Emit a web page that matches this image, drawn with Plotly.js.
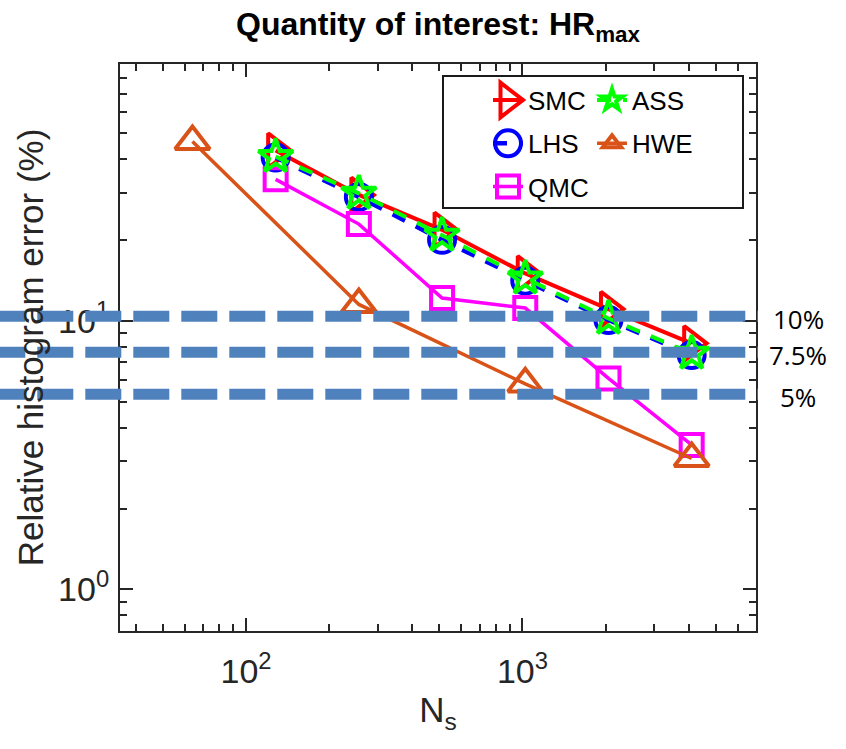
<!DOCTYPE html>
<html><head><meta charset="utf-8">
<script src="https://cdn.plot.ly/plotly-3.0.1.min.js"></script>
<style>body{margin:0;background:#fff}</style>
</head><body>
<div id="chart" style="width:846px;height:749px"></div>
<script>
// ---- data ----
const Ns      = [128, 256, 512, 1024, 2048, 4096];
const Ns_HWE  = [64, 256, 1024, 4096];
const err_SMC = [43.0, 29.4, 21.8, 15.0, 11.05, 8.24];
const err_LHS = [40.5, 28.9, 20.0, 14.1, 10.06, 7.45];
const err_QMC = [33.6, 22.9, 12.15, 11.15, 6.1, 3.45];
const err_ASS = [40.8, 29.8, 20.8, 14.4, 10.2, 7.56];
const err_HWE = [46.5, 11.5, 5.82, 3.07];
const thresholdLevels = [10.4, 7.63, 5.33];
const thresholdLabels = ['10%', '7.5%', '5%'];
const xTickVals = [100, 1000];
const xTickText = ['10<sup>2</sup>', '10<sup>3</sup>'];
const yTickVals = [1, 10];
const yTickText = ['10<sup>0</sup>', '10<sup>1</sup>'];

// ---- layout geometry ----
const W = 846, H = 749;
const M = {l: 120, r: 90, t: 64, b: 118};
const pw = W - M.l - M.r, ph = H - M.t - M.b;
const px2x = p => (p - M.l) / pw;
const py2y = p => (H - M.b - p) / ph;
const xr = [Math.log10(35), Math.log10(7000)];
const yr = [Math.log10(0.7), Math.log10(90.3)];

function minorVals(lo, hi) {
  const out = [];
  for (let e = Math.floor(Math.log10(lo)); e <= Math.ceil(Math.log10(hi)); e++) {
    for (let d = 2; d <= 9; d++) { const v = d * Math.pow(10, e); if (v >= lo && v <= hi) out.push(v); }
  }
  return out;
}

const FONT = 'Liberation Sans, Arial, Helvetica, sans-serif';
const axColor = '#262626';

function tr(name, x, y, color, width, dash, symbol, size, legend, grp) {
  return {
    type: 'scatter', mode: 'lines+markers', name: name, x: x, y: y,
    line: {color: color, width: width, dash: dash},
    marker: {symbol: symbol, size: size, color: color, line: {color: color, width: 4}},
    legend: legend, legendgroup: grp, cliponaxis: false
  };
}

const traces = [
  tr('SMC', Ns, err_SMC, '#FF0000', 4, 'solid', 'triangle-right-open', 30, 'legend', 'g1'),
  tr('LHS', Ns, err_LHS, '#0000FF', 4.5, '14px,12px', 'circle-open', 26, 'legend', 'g2'),
  tr('QMC', Ns, err_QMC, '#FF00FF', 3.5, 'solid', 'square-open', 22, 'legend', 'g3'),
  tr('ASS', Ns, err_ASS, '#00FF00', 4, '14px,12px', 'star-open', 26, 'legend2', 'g4'),
  tr('HWE', Ns_HWE, err_HWE, '#D95319', 3.5, 'solid', 'triangle-up-open', 30, 'legend2', 'g5')
];

const shapes = [{
  type: 'rect', xref: 'paper', yref: 'paper',
  x0: px2x(443), x1: px2x(743), y0: py2y(208), y1: py2y(76),
  line: {color: '#1a1a1a', width: 2}, fillcolor: 'white', layer: 'above'
}];
thresholdLevels.forEach(v => shapes.push({
  type: 'line', xref: 'paper', yref: 'y', x0: px2x(-10.7), x1: px2x(758), y0: v, y1: v,
  line: {color: '#4F81BD', width: 11, dash: '36px,12px'}, layer: 'above'
}));

const annotations = thresholdLabels.map((t, i) => ({
  text: t, xref: 'paper', yref: 'y', x: px2x(798), y: Math.log10(thresholdLevels[i]),
  xanchor: 'center', yanchor: 'middle', yshift: -3, showarrow: false,
  font: {family: 'Open Sans, sans-serif', size: 26, color: '#000'}
}));

const axisCommon = {
  type: 'log', showgrid: false, zeroline: false, showline: true, mirror: 'allticks',
  linecolor: axColor, linewidth: 2, ticks: 'inside', ticklen: 13, tickwidth: 2, tickcolor: axColor,
  tickfont: {family: FONT, size: 34, color: axColor}, tickmode: 'array'
};

const legendCommon = {
  yanchor: 'top', xanchor: 'left', bgcolor: 'rgba(0,0,0,0)', borderwidth: 0,
  font: {family: FONT, size: 26, color: '#000'}, traceorder: 'grouped', tracegroupgap: 6.5,
  orientation: 'v'
};

const layout = {
  width: W, height: H, margin: M, paper_bgcolor: '#fff', plot_bgcolor: '#fff',
  title: {text: '<b>Quantity of interest: HR<sub>max</sub></b>', x: 0.5, xref: 'paper',
          y: 0.983, yref: 'container', yanchor: 'top',
          font: {family: FONT, size: 32, color: '#000'}},
  xaxis: Object.assign({}, axisCommon, {
    range: xr, tickvals: xTickVals, ticktext: xTickText, ticklabelstandoff: 9,
    minor: {tickvals: minorVals(35, 7000), ticklen: 7, tickwidth: 2, tickcolor: axColor, ticks: 'inside'},
    title: {text: 'N<sub>s</sub>', font: {family: FONT, size: 35, color: axColor}, standoff: 9}
  }),
  yaxis: Object.assign({}, axisCommon, {
    range: yr, tickvals: yTickVals, ticktext: yTickText, ticklabelstandoff: 2,
    minor: {tickvals: minorVals(0.7, 90), ticklen: 7, tickwidth: 2, tickcolor: axColor, ticks: 'inside'},
    title: {text: 'Relative histogram error (%)', font: {family: FONT, size: 35, color: axColor}, standoff: 4}
  }),
  showlegend: true,
  legend: Object.assign({}, legendCommon, {x: px2x(488), y: py2y(76.6)}),
  legend2: Object.assign({}, legendCommon, {x: px2x(592), y: py2y(76.6)}),
  shapes: shapes, annotations: annotations
};

Plotly.newPlot('chart', traces, layout, {displayModeBar: false, staticPlot: true}).then(gd => {
  // enlarge legend symbols to the traces' marker sizes (legend caps them at 16px)
  gd.querySelectorAll('.legend g.traces').forEach(g => {
    const d = g.__data__;
    const size = d && d[0] && d[0].trace ? d[0].trace.marker.size : 16;
    const s = size / 16;
    g.querySelectorAll('path.scatterpts').forEach(p => {
      p.setAttribute('transform', 'translate(20,0) scale(' + s + ')');
      p.style.vectorEffect = 'non-scaling-stroke';
    });
  });
});
</script>
</body></html>
